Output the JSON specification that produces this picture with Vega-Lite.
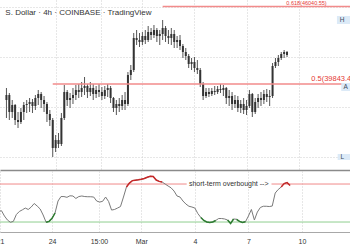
{
"$schema": "https://vega.github.io/schema/vega-lite/v6.json",
"padding": {"left": -4, "top": 0, "right": 0, "bottom": 0},
"background": "white",
"spacing": 1,
"config": {
  "view": {"stroke": null},
  "axis": {"labelFont": "Liberation Sans", "labelFontSize": 7, "labelColor": "#333", "gridColor": "#cfcfcf", "gridDash": [1, 2], "ticks": false, "title": null},
  "text": {"font": "Liberation Sans"}
},
"datasets": {
  "candles": [
{"t":"2022-02-21T04:00","o":38560,"h":39520,"l":37120,"c":38960},
{"t":"2022-02-21T08:00","o":38960,"h":39120,"l":36960,"c":37600},
{"t":"2022-02-21T12:00","o":37600,"h":38560,"l":37120,"c":38160},
{"t":"2022-02-21T16:00","o":38160,"h":38240,"l":36560,"c":36960},
{"t":"2022-02-21T20:00","o":36960,"h":37600,"l":36320,"c":36800},
{"t":"2022-02-22T00:00","o":36800,"h":37920,"l":36640,"c":37600},
{"t":"2022-02-22T04:00","o":37600,"h":38400,"l":36960,"c":38160},
{"t":"2022-02-22T08:00","o":38160,"h":38560,"l":37520,"c":38240},
{"t":"2022-02-22T12:00","o":38240,"h":38720,"l":37600,"c":38400},
{"t":"2022-02-22T16:00","o":38400,"h":38640,"l":37520,"c":38080},
{"t":"2022-02-22T20:00","o":38080,"h":38960,"l":37760,"c":38720},
{"t":"2022-02-23T00:00","o":38720,"h":39360,"l":38160,"c":39040},
{"t":"2022-02-23T04:00","o":39040,"h":39200,"l":37920,"c":38560},
{"t":"2022-02-23T08:00","o":38560,"h":38880,"l":37600,"c":38240},
{"t":"2022-02-23T12:00","o":38240,"h":38400,"l":36800,"c":37440},
{"t":"2022-02-23T16:00","o":37440,"h":37760,"l":36480,"c":36960},
{"t":"2022-02-23T20:00","o":36960,"h":37120,"l":34000,"c":34720},
{"t":"2022-02-24T00:00","o":34720,"h":35760,"l":34400,"c":35360},
{"t":"2022-02-24T04:00","o":35360,"h":35920,"l":34720,"c":35040},
{"t":"2022-02-24T08:00","o":35040,"h":37520,"l":34880,"c":37120},
{"t":"2022-02-24T12:00","o":37120,"h":39760,"l":36960,"c":39200},
{"t":"2022-02-24T16:00","o":39200,"h":39360,"l":38080,"c":38560},
{"t":"2022-02-24T20:00","o":38560,"h":39120,"l":37920,"c":38720},
{"t":"2022-02-25T00:00","o":38720,"h":39520,"l":38240,"c":38960},
{"t":"2022-02-25T04:00","o":38960,"h":39760,"l":38560,"c":39360},
{"t":"2022-02-25T08:00","o":39360,"h":39840,"l":38720,"c":39200},
{"t":"2022-02-25T12:00","o":39200,"h":40000,"l":38800,"c":39520},
{"t":"2022-02-25T16:00","o":39520,"h":40400,"l":38960,"c":39680},
{"t":"2022-02-25T20:00","o":39680,"h":39840,"l":38720,"c":39200},
{"t":"2022-02-26T00:00","o":39200,"h":40000,"l":38880,"c":39520},
{"t":"2022-02-26T04:00","o":39520,"h":39840,"l":38560,"c":39040},
{"t":"2022-02-26T08:00","o":39040,"h":39680,"l":38720,"c":39360},
{"t":"2022-02-26T12:00","o":39360,"h":39840,"l":38800,"c":39200},
{"t":"2022-02-26T16:00","o":39200,"h":39600,"l":38560,"c":38880},
{"t":"2022-02-26T20:00","o":38880,"h":39680,"l":38640,"c":39360},
{"t":"2022-02-27T00:00","o":39360,"h":39840,"l":38800,"c":39520},
{"t":"2022-02-27T04:00","o":39520,"h":39680,"l":38320,"c":38720},
{"t":"2022-02-27T08:00","o":38720,"h":38800,"l":37600,"c":37920},
{"t":"2022-02-27T12:00","o":37920,"h":38560,"l":37360,"c":38240},
{"t":"2022-02-27T16:00","o":38240,"h":38720,"l":37600,"c":38080},
{"t":"2022-02-27T20:00","o":38080,"h":38960,"l":37760,"c":38560},
{"t":"2022-02-28T00:00","o":38560,"h":39200,"l":37760,"c":38240},
{"t":"2022-02-28T04:00","o":38240,"h":40800,"l":38080,"c":40560},
{"t":"2022-02-28T08:00","o":40560,"h":41360,"l":40160,"c":40960},
{"t":"2022-02-28T12:00","o":40960,"h":43920,"l":40800,"c":43520},
{"t":"2022-02-28T16:00","o":43520,"h":44160,"l":42960,"c":43360},
{"t":"2022-02-28T20:00","o":43360,"h":43920,"l":42800,"c":43200},
{"t":"2022-03-01T00:00","o":43200,"h":44000,"l":42960,"c":43680},
{"t":"2022-03-01T04:00","o":43680,"h":44160,"l":43040,"c":43360},
{"t":"2022-03-01T08:00","o":43360,"h":44480,"l":43200,"c":44000},
{"t":"2022-03-01T12:00","o":44000,"h":44320,"l":43360,"c":43760},
{"t":"2022-03-01T16:00","o":43760,"h":44560,"l":43520,"c":44160},
{"t":"2022-03-01T20:00","o":44160,"h":44320,"l":43200,"c":43680},
{"t":"2022-03-02T00:00","o":43680,"h":44160,"l":42960,"c":43840},
{"t":"2022-03-02T04:00","o":43840,"h":44960,"l":43360,"c":44320},
{"t":"2022-03-02T08:00","o":44320,"h":44480,"l":43200,"c":43680},
{"t":"2022-03-02T12:00","o":43680,"h":44160,"l":43040,"c":43520},
{"t":"2022-03-02T16:00","o":43520,"h":44320,"l":42960,"c":43840},
{"t":"2022-03-02T20:00","o":43840,"h":44160,"l":42720,"c":43200},
{"t":"2022-03-03T00:00","o":43200,"h":43680,"l":42720,"c":43360},
{"t":"2022-03-03T04:00","o":43360,"h":43760,"l":42560,"c":42880},
{"t":"2022-03-03T08:00","o":42880,"h":43040,"l":41920,"c":42400},
{"t":"2022-03-03T12:00","o":42400,"h":42720,"l":41760,"c":42080},
{"t":"2022-03-03T16:00","o":42080,"h":42240,"l":41120,"c":41440},
{"t":"2022-03-03T20:00","o":41440,"h":41920,"l":40960,"c":41600},
{"t":"2022-03-04T00:00","o":41600,"h":42000,"l":40800,"c":41120},
{"t":"2022-03-04T04:00","o":41120,"h":41760,"l":40640,"c":40960},
{"t":"2022-03-04T08:00","o":40960,"h":41120,"l":39600,"c":39840},
{"t":"2022-03-04T12:00","o":39840,"h":40000,"l":38560,"c":38880},
{"t":"2022-03-04T16:00","o":38880,"h":39520,"l":38720,"c":39200},
{"t":"2022-03-04T20:00","o":39200,"h":39520,"l":38800,"c":39040},
{"t":"2022-03-05T00:00","o":39040,"h":39520,"l":38880,"c":39280},
{"t":"2022-03-05T04:00","o":39280,"h":39680,"l":38960,"c":39200},
{"t":"2022-03-05T08:00","o":39200,"h":39680,"l":39040,"c":39440},
{"t":"2022-03-05T12:00","o":39440,"h":39840,"l":39120,"c":39360},
{"t":"2022-03-05T16:00","o":39360,"h":39760,"l":38880,"c":39520},
{"t":"2022-03-05T20:00","o":39520,"h":39600,"l":38240,"c":38720},
{"t":"2022-03-06T00:00","o":38720,"h":39360,"l":38080,"c":38880},
{"t":"2022-03-06T04:00","o":38880,"h":39200,"l":37760,"c":38240},
{"t":"2022-03-06T08:00","o":38240,"h":38960,"l":37920,"c":38560},
{"t":"2022-03-06T12:00","o":38560,"h":38880,"l":37600,"c":37920},
{"t":"2022-03-06T16:00","o":37920,"h":38560,"l":37520,"c":38240},
{"t":"2022-03-06T20:00","o":38240,"h":38720,"l":37440,"c":37760},
{"t":"2022-03-07T00:00","o":37760,"h":38560,"l":37360,"c":38080},
{"t":"2022-03-07T04:00","o":38080,"h":39360,"l":37920,"c":39040},
{"t":"2022-03-07T08:00","o":39040,"h":39120,"l":37200,"c":37600},
{"t":"2022-03-07T12:00","o":37600,"h":38720,"l":37440,"c":38400},
{"t":"2022-03-07T16:00","o":38400,"h":39040,"l":37920,"c":38720},
{"t":"2022-03-07T20:00","o":38720,"h":39200,"l":38080,"c":38560},
{"t":"2022-03-08T00:00","o":38560,"h":39360,"l":38240,"c":39040},
{"t":"2022-03-08T04:00","o":39040,"h":39440,"l":38400,"c":38800},
{"t":"2022-03-08T08:00","o":38800,"h":39360,"l":38080,"c":38880},
{"t":"2022-03-08T12:00","o":38880,"h":41520,"l":38720,"c":41280},
{"t":"2022-03-08T16:00","o":41280,"h":41920,"l":41120,"c":41600},
{"t":"2022-03-08T20:00","o":41600,"h":42160,"l":41280,"c":41920},
{"t":"2022-03-09T00:00","o":41920,"h":42400,"l":41760,"c":42240},
{"t":"2022-03-09T04:00","o":42240,"h":42560,"l":41920,"c":42400},
{"t":"2022-03-09T08:00","o":42400,"h":42480,"l":42000,"c":42160}
  ],
  "rsi": [
{"t":"2022-02-21T00:00","r":41.1},
{"t":"2022-02-21T04:00","r":41.9},
{"t":"2022-02-21T08:00","r":36.3},
{"t":"2022-02-21T12:00","r":32.1},
{"t":"2022-02-21T16:00","r":29.7},
{"t":"2022-02-21T20:00","r":30.7},
{"t":"2022-02-22T00:00","r":37.9},
{"t":"2022-02-22T04:00","r":41.1},
{"t":"2022-02-22T08:00","r":42.8},
{"t":"2022-02-22T12:00","r":44.7},
{"t":"2022-02-22T16:00","r":43.2},
{"t":"2022-02-22T20:00","r":45.8},
{"t":"2022-02-23T00:00","r":49.5},
{"t":"2022-02-23T04:00","r":46.8},
{"t":"2022-02-23T08:00","r":43.7},
{"t":"2022-02-23T12:00","r":37.4},
{"t":"2022-02-23T16:00","r":29.7,"z":"lo","s":"lo1"},
{"t":"2022-02-23T20:00","r":30.7,"z":"lo","s":"lo1"},
{"t":"2022-02-24T00:00","r":33.9,"z":"lo","s":"lo1"},
{"t":"2022-02-24T04:00","r":39.5,"z":"lo","s":"lo1"},
{"t":"2022-02-24T08:00","r":52.1},
{"t":"2022-02-24T12:00","r":56.8},
{"t":"2022-02-24T16:00","r":56.8},
{"t":"2022-02-24T20:00","r":56.0},
{"t":"2022-02-25T00:00","r":57.6},
{"t":"2022-02-25T04:00","r":57.4},
{"t":"2022-02-25T08:00","r":54.8},
{"t":"2022-02-25T12:00","r":56.8},
{"t":"2022-02-25T16:00","r":57.4},
{"t":"2022-02-25T20:00","r":56.8},
{"t":"2022-02-26T00:00","r":56.6},
{"t":"2022-02-26T04:00","r":56.6},
{"t":"2022-02-26T08:00","r":56.3},
{"t":"2022-02-26T12:00","r":52.1},
{"t":"2022-02-26T16:00","r":51.0},
{"t":"2022-02-26T20:00","r":51.8},
{"t":"2022-02-27T00:00","r":56.3},
{"t":"2022-02-27T04:00","r":51.6},
{"t":"2022-02-27T08:00","r":42.6},
{"t":"2022-02-27T12:00","r":43.2},
{"t":"2022-02-27T16:00","r":44.7},
{"t":"2022-02-27T20:00","r":46.3},
{"t":"2022-02-28T00:00","r":56.3},
{"t":"2022-02-28T04:00","r":66.8,"z":"hi","s":"hi1"},
{"t":"2022-02-28T08:00","r":71.0,"z":"hi","s":"hi1"},
{"t":"2022-02-28T12:00","r":73.6,"z":"hi","s":"hi1"},
{"t":"2022-02-28T16:00","r":74.0,"z":"hi","s":"hi1"},
{"t":"2022-02-28T20:00","r":74.4,"z":"hi","s":"hi1"},
{"t":"2022-03-01T00:00","r":75.0,"z":"hi","s":"hi1"},
{"t":"2022-03-01T04:00","r":75.8,"z":"hi","s":"hi1"},
{"t":"2022-03-01T08:00","r":77.1,"z":"hi","s":"hi1"},
{"t":"2022-03-01T12:00","r":78.1,"z":"hi","s":"hi1"},
{"t":"2022-03-01T16:00","r":77.9,"z":"hi","s":"hi1"},
{"t":"2022-03-01T20:00","r":74.2,"z":"hi","s":"hi1"},
{"t":"2022-03-02T00:00","r":72.8,"z":"hi","s":"hi1"},
{"t":"2022-03-02T04:00","r":72.1,"z":"hi","s":"hi1"},
{"t":"2022-03-02T08:00","r":70.0},
{"t":"2022-03-02T12:00","r":67.9},
{"t":"2022-03-02T16:00","r":66.0},
{"t":"2022-03-02T20:00","r":62.6},
{"t":"2022-03-03T00:00","r":57.4},
{"t":"2022-03-03T04:00","r":56.3},
{"t":"2022-03-03T08:00","r":52.1},
{"t":"2022-03-03T12:00","r":48.9},
{"t":"2022-03-03T16:00","r":46.6},
{"t":"2022-03-03T20:00","r":45.8},
{"t":"2022-03-04T00:00","r":44.7},
{"t":"2022-03-04T04:00","r":38.9},
{"t":"2022-03-04T08:00","r":34.8,"z":"lo","s":"lo2"},
{"t":"2022-03-04T12:00","r":31.6,"z":"lo","s":"lo2"},
{"t":"2022-03-04T16:00","r":30.0,"z":"lo","s":"lo2"},
{"t":"2022-03-04T20:00","r":29.5,"z":"lo","s":"lo2"},
{"t":"2022-03-05T00:00","r":30.0,"z":"lo","s":"lo2"},
{"t":"2022-03-05T04:00","r":31.6,"z":"lo","s":"lo2"},
{"t":"2022-03-05T08:00","r":33.7},
{"t":"2022-03-05T12:00","r":33.7},
{"t":"2022-03-05T16:00","r":33.2},
{"t":"2022-03-05T20:00","r":32.1,"z":"lo","s":"lo3"},
{"t":"2022-03-06T00:00","r":28.4,"z":"lo","s":"lo3"},
{"t":"2022-03-06T04:00","r":33.2,"z":"lo","s":"lo3"},
{"t":"2022-03-06T08:00","r":32.9,"z":"lo","s":"lo4"},
{"t":"2022-03-06T12:00","r":30.7,"z":"lo","s":"lo4"},
{"t":"2022-03-06T16:00","r":29.5,"z":"lo","s":"lo4"},
{"t":"2022-03-06T20:00","r":30.3,"z":"lo","s":"lo4"},
{"t":"2022-03-07T00:00","r":36.3},
{"t":"2022-03-07T04:00","r":43.2},
{"t":"2022-03-07T08:00","r":32.1},
{"t":"2022-03-07T12:00","r":40.5},
{"t":"2022-03-07T16:00","r":45.3},
{"t":"2022-03-07T20:00","r":46.6},
{"t":"2022-03-08T00:00","r":46.6},
{"t":"2022-03-08T04:00","r":46.3},
{"t":"2022-03-08T08:00","r":46.8},
{"t":"2022-03-08T12:00","r":60.5},
{"t":"2022-03-08T16:00","r":64.2},
{"t":"2022-03-08T20:00","r":66.8,"z":"hi","s":"hi2"},
{"t":"2022-03-09T00:00","r":70.5,"z":"hi","s":"hi2"},
{"t":"2022-03-09T04:00","r":71.5,"z":"hi","s":"hi2"},
{"t":"2022-03-09T08:00","r":68.5,"z":"hi","s":"hi2"}
  ]
},
"vconcat": [
  {
    "width": 360,
    "height": 170,
    "layer": [
      {
        "data": {"name": "candles"},
        "mark": {"type": "rule", "color": "#555", "strokeWidth": 1},
        "encoding": {
          "x": {"field": "t", "type": "temporal",
                "scale": {"domain": [{"year": 2022, "month": 2, "date": 21, "hours": 2}, {"year": 2022, "month": 3, "date": 13, "hours": 6}]},
                "axis": {"values": [{"year": 2022, "month": 2, "date": 24}, {"year": 2022, "month": 2, "date": 26, "hours": 15}, {"year": 2022, "month": 3, "date": 1}, {"year": 2022, "month": 3, "date": 4}, {"year": 2022, "month": 3, "date": 7}, {"year": 2022, "month": 3, "date": 10}],
                         "labels": false, "grid": true, "domainColor": "#8a8a8a", "domainWidth": 1.5}},
          "y": {"field": "l", "type": "quantitative",
                "scale": {"domain": [32960, 46560], "nice": false, "zero": false},
                "axis": {"values": [34000, 36000, 38000, 40000, 42000, 44000, 46000], "labels": false, "domain": false, "grid": true}},
          "y2": {"field": "h"}
        }
      },
      {
        "data": {"name": "candles"},
        "mark": {"type": "bar", "width": 2, "color": "#333"},
        "encoding": {
          "x": {"field": "t", "type": "temporal"},
          "y": {"field": "o", "type": "quantitative"},
          "y2": {"field": "c"}
        }
      },
      {
        "data": {"values": [
          {"t0": "2022-02-23T20:00", "t1": "2022-03-13T06:00", "p": 39843.4},
          {"t0": "2022-03-02T04:00", "t1": "2022-03-13T06:00", "p": 46040}
        ]},
        "mark": {"type": "rule", "color": "#f28b8b", "strokeWidth": 1.5},
        "encoding": {
          "x": {"field": "t0", "type": "temporal"},
          "x2": {"field": "t1"},
          "y": {"field": "p", "type": "quantitative"}
        }
      },
      {
        "data": {"values": [
          {"t": "2022-03-10T17:30", "p": 39843.4, "label": "0.5(39843.41)", "fs": 7.5},
          {"t": "2022-03-09T07:00", "p": 46040, "label": "0.618(46040.55)", "fs": 5.5}
        ]},
        "mark": {"type": "text", "align": "left", "baseline": "bottom", "dy": -1, "color": "#e53935"},
        "encoding": {
          "x": {"field": "t", "type": "temporal"},
          "y": {"field": "p", "type": "quantitative"},
          "text": {"field": "label"},
          "size": {"field": "fs", "type": "quantitative", "scale": null}
        }
      },
      {
        "data": {"values": [
          {"t0": "2022-03-12T05:00", "t1": "2022-03-13T06:00", "p0": 45280, "p1": 44640},
          {"t0": "2022-03-12T11:00", "t1": "2022-03-13T06:00", "p0": 39920, "p1": 39280},
          {"t0": "2022-03-12T06:00", "t1": "2022-03-13T06:00", "p0": 34240, "p1": 33760}
        ]},
        "mark": {"type": "rect", "color": "#dceaf7"},
        "encoding": {
          "x": {"field": "t0", "type": "temporal"},
          "x2": {"field": "t1"},
          "y": {"field": "p0", "type": "quantitative"},
          "y2": {"field": "p1"}
        }
      },
      {
        "data": {"values": [
          {"t": "2022-03-12T09:00", "p": 44960, "label": "H"},
          {"t": "2022-03-12T14:00", "p": 39600, "label": "A"},
          {"t": "2022-03-12T10:00", "p": 34000, "label": "L"}
        ]},
        "mark": {"type": "text", "align": "left", "baseline": "middle", "fontSize": 6.5, "color": "#3d4a5c"},
        "encoding": {
          "x": {"field": "t", "type": "temporal"},
          "y": {"field": "p", "type": "quantitative"},
          "text": {"field": "label"}
        }
      },
      {
        "data": {"values": [
          {"t": "2022-02-21T02:30", "p": 45520, "label": "S. Dollar · 4h · COINBASE · TradingView"}
        ]},
        "mark": {"type": "text", "align": "left", "baseline": "middle", "fontSize": 8, "color": "#333"},
        "encoding": {
          "x": {"field": "t", "type": "temporal"},
          "y": {"field": "p", "type": "quantitative"},
          "text": {"field": "label"}
        }
      }
    ]
  },
  {
    "width": 360,
    "height": 61,
    "layer": [
      {
        "data": {"values": [
          {"t0": "2022-02-21T02:00", "t1": "2022-03-03T13:00", "v": 70},
          {"t0": "2022-03-08T07:00", "t1": "2022-03-13T06:00", "v": 70}
        ]},
        "mark": {"type": "rule", "color": "#f08a8a", "strokeWidth": 1},
        "encoding": {
          "x": {"field": "t0", "type": "temporal",
                "scale": {"domain": [{"year": 2022, "month": 2, "date": 21, "hours": 2}, {"year": 2022, "month": 3, "date": 13, "hours": 6}]},
                "axis": {"values": [{"year": 2022, "month": 2, "date": 21, "hours": 2}, {"year": 2022, "month": 2, "date": 24}, {"year": 2022, "month": 2, "date": 26, "hours": 15}, {"year": 2022, "month": 3, "date": 1}, {"year": 2022, "month": 3, "date": 4}, {"year": 2022, "month": 3, "date": 7}, {"year": 2022, "month": 3, "date": 10}],
                         "labelExpr": "hours(datum.value) == 15 ? '15:00' : (date(datum.value) == 1 ? 'Mar' : '' + date(datum.value))",
                         "labelPadding": 5, "labelFlush": false, "labelOverlap": false, "grid": true, "domainColor": "#a8a8a8", "domainWidth": 1}},
          "x2": {"field": "t1"},
          "y": {"field": "v", "type": "quantitative",
                "scale": {"domain": [19.5, 83.7], "nice": false, "zero": false},
                "axis": {"labels": false, "domain": false, "grid": false}}
        }
      },
      {
        "data": {"values": [
          {"t0": "2022-02-21T02:00", "t1": "2022-03-13T06:00", "v": 30}
        ]},
        "mark": {"type": "rule", "color": "#8fce8f", "strokeWidth": 1},
        "encoding": {
          "x": {"field": "t0", "type": "temporal"},
          "x2": {"field": "t1"},
          "y": {"field": "v", "type": "quantitative"}
        }
      },
      {
        "data": {"name": "rsi"},
        "mark": {"type": "line", "color": "#7a7a7a", "strokeWidth": 1, "clip": true},
        "encoding": {
          "x": {"field": "t", "type": "temporal"},
          "y": {"field": "r", "type": "quantitative"}
        }
      },
      {
        "data": {"name": "rsi"},
        "transform": [{"filter": "datum.s != null"}],
        "mark": {"type": "line", "strokeWidth": 1.5, "clip": true},
        "encoding": {
          "x": {"field": "t", "type": "temporal"},
          "y": {"field": "r", "type": "quantitative"},
          "detail": {"field": "s"},
          "color": {"field": "z", "type": "nominal", "scale": {"domain": ["hi", "lo"], "range": ["#c62828", "#2e7d32"]}, "legend": null}
        }
      },
      {
        "data": {"values": [
          {"t": "2022-03-03T16:00", "v": 70, "label": "short-term overbought -->"}
        ]},
        "mark": {"type": "text", "align": "left", "baseline": "middle", "fontSize": 7, "color": "#333"},
        "encoding": {
          "x": {"field": "t", "type": "temporal"},
          "y": {"field": "v", "type": "quantitative"},
          "text": {"field": "label"}
        }
      }
    ]
  }
]
}
